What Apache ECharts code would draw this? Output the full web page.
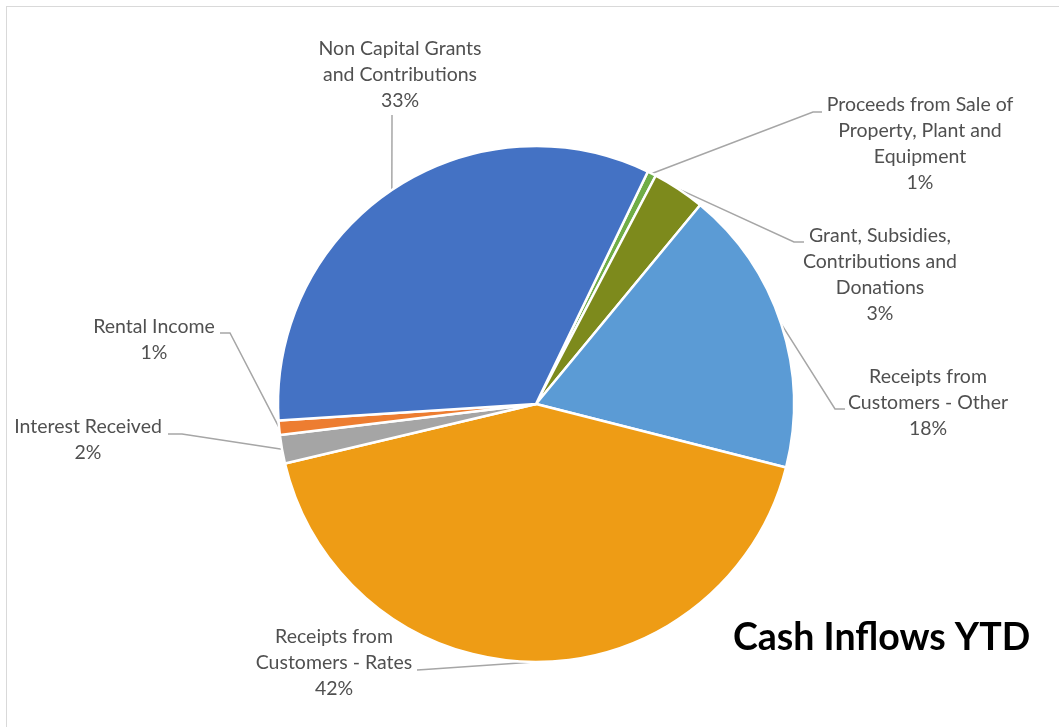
<!DOCTYPE html>
<html>
<head>
<meta charset="utf-8">
<title>Cash Inflows YTD</title>
<script src="https://cdn.jsdelivr.net/npm/echarts@6/dist/echarts.min.js"></script>
<style>
  html, body { margin: 0; padding: 0; background: #fff; overflow: hidden; }
  #frame { position: absolute; left: 6px; top: 6px; width: 1200px; height: 900px;
           border: 1.5px solid #d9d9d9; box-sizing: border-box; }
  #chart { position: absolute; left: 0; top: 0; width: 1059px; height: 727px; }
</style>
</head>
<body>
<div id="frame"></div>
<div id="chart"></div>
<script>
// Cash inflow categories, in clockwise order
const categories = [
  'Proceeds from Sale of\nProperty, Plant and\nEquipment',
  'Grant, Subsidies,\nContributions and\nDonations',
  'Receipts from\nCustomers - Other',
  'Receipts from\nCustomers - Rates',
  'Interest Received',
  'Rental Income',
  'Non Capital Grants\nand Contributions'
];
// Share of year-to-date inflows (percent)
const shares = [0.55, 3.3, 18.0, 42.4, 1.8, 0.9, 33.2];
const sliceColors = ['#70AD47', '#7D8A1C', '#5B9BD5', '#EE9C15', '#A5A5A5', '#ED7D31', '#4472C4'];

// Where each label sits (centre of the text block) and where its leader line bends / ends
const labelSpots = [
  { x: 920, y: 144, bend: [813, 112], end: [822, 112] },
  { x: 880, y: 275, bend: [794, 242], end: [804, 242] },
  { x: 928, y: 403, bend: [835, 409], end: [845, 409] },
  { x: 334, y: 663, bend: [425, 669.5], end: [417, 670] },
  { x: 88,  y: 440, bend: [182, 434], end: [168, 434] },
  { x: 154, y: 340, bend: [230, 333], end: [220, 333] },
  { x: 400, y: 75,  bend: [392, 122], end: [392, 115] }
];

const chart = echarts.init(document.getElementById('chart'), null, { renderer: 'canvas' });

chart.setOption({
  backgroundColor: 'transparent',
  animation: false,
  title: {
    text: 'Cash Inflows YTD',
    left: 728,
    top: 614,
    textStyle: { fontFamily: 'Lato', fontWeight: 'bold', fontSize: 37.5, color: '#000' }
  },
  series: [{
    type: 'pie',
    center: [536, 404],
    radius: 258,
    startAngle: 64.3,
    clockwise: true,
    avoidLabelOverlap: false,
    itemStyle: { borderColor: '#fff', borderWidth: 2.5 },
    label: {
      show: true,
      position: 'outside',
      fontFamily: 'Lato',
      fontSize: 19.5,
      lineHeight: 26,
      color: '#505050',
      align: 'center',
      formatter: p => p.name + '\n' + Math.round(p.percent) + '%'
    },
    labelLine: {
      show: true,
      lineStyle: { color: '#A6A6A6', width: 1.5 }
    },
    labelLayout: params => {
      const s = labelSpots[params.dataIndex];
      const edge = params.labelLinePoints ? params.labelLinePoints[0] : s.bend;
      return {
        x: s.x,
        y: s.y,
        align: 'center',
        verticalAlign: 'middle',
        labelLinePoints: [edge, s.bend, s.end]
      };
    },
    emphasis: { disabled: true },
    data: categories.map((name, i) => ({
      name,
      value: shares[i],
      itemStyle: { color: sliceColors[i] }
    }))
  }]
});
</script>
</body>
</html>
